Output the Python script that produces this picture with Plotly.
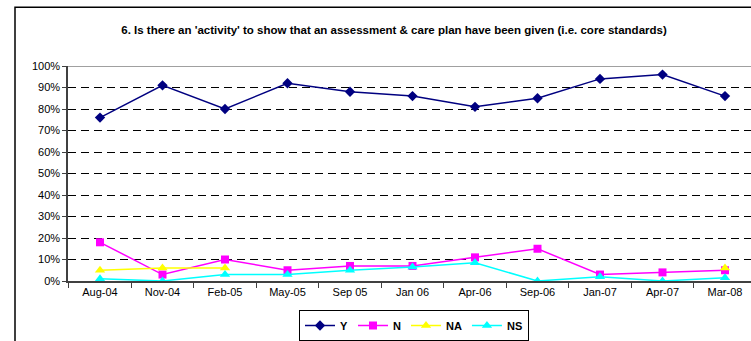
import plotly.graph_objects as go

# Survey periods
periods = ["Aug-04", "Nov-04", "Feb-05", "May-05", "Sep 05", "Jan 06",
           "Apr-06", "Sep-06", "Jan-07", "Apr-07", "Mar-08"]

# Percentage of responses per answer
y_yes = [76, 91, 80, 92, 88, 86, 81, 85, 94, 96, 86]
y_no = [18, 3, 10, 5, 7, 7, 11, 15, 3, 4, 5]
y_na = [5, 6, 6, None, None, None, None, None, None, None, 6]
y_ns = [1, 0, 3, 3, 5, 6.5, 8.5, 0, 2, 0, 1.5]

y_ticks = list(range(0, 101, 10))
y_tick_labels = [f"{v}%" for v in y_ticks]

FONT = "Liberation Sans, Arial, sans-serif"

series = [
    ("Y", y_yes, "#000080", "diamond", 8),
    ("N", y_no, "#FF00FF", "square", 8),
    ("NA", y_na, "#FFFF00", "triangle-up", 9),
    ("NS", y_ns, "#00FFFF", "triangle-up", 9),
]

fig = go.Figure()
for name, vals, color, symbol, size in series:
    fig.add_trace(go.Scatter(
        x=periods, y=vals, name=name, mode="lines+markers",
        connectgaps=False,
        line=dict(color=color, width=1.5),
        marker=dict(symbol=symbol, size=size, color=color,
                    line=dict(color=color, width=0)),
    ))

fig.update_layout(
    width=751, height=341,
    margin=dict(l=68, r=0, t=66, b=59),
    paper_bgcolor="white", plot_bgcolor="white",
    font=dict(family=FONT, size=11, color="black"),
    title=dict(
        text="<b>6. Is there an 'activity' to show that an assessment &amp; care plan have been given (i.e. core standards)</b>",
        x=(394 - 68) / 683, xref="paper", xanchor="center",
        y=1 - 30 / 341, yanchor="middle",
        font=dict(family=FONT, size=11.5, color="black"),
    ),
    showlegend=True,
    legend=dict(
        orientation="h", x=(414 - 68) / 683, xanchor="center",
        y=-0.205, yanchor="middle",
        bordercolor="black", borderwidth=1, bgcolor="white",
        font=dict(family=FONT, size=11, color="black", weight="bold"),
        itemwidth=30, tracegroupgap=0,
    ),
    xaxis=dict(
        type="category", range=[-0.512, 10.416],
        showgrid=False, zeroline=False,
        showline=True, linecolor="#404040", linewidth=1.5,
        ticks="outside", ticklen=5, tickcolor="#404040", tickwidth=1,
        tickson="boundaries",
        tickfont=dict(family=FONT, size=11, color="black"),
    ),
    yaxis=dict(
        range=[0, 100], tickmode="array",
        tickvals=y_ticks, ticktext=y_tick_labels,
        showgrid=True, gridcolor="black", gridwidth=1, griddash="8px,5px",
        zeroline=False,
        showline=True, linecolor="#404040", linewidth=1.5,
        ticks="outside", ticklen=4, tickcolor="#404040",
        tickfont=dict(family=FONT, size=11, color="black"),
    ),
    shapes=[
        # plot-area top border
        dict(type="line", xref="paper", yref="y", x0=0, x1=1, y0=100, y1=100,
             line=dict(color="#808080", width=1.5), layer="above"),
        # outer chart frame (left and top edges)
        dict(type="path", xref="paper", yref="paper",
             path="M {l},{b} L {l},{t} L 1,{t}".format(
                 l=(15 - 68) / 683, b=(282 - 345) / 216, t=(282 - 7) / 216),
             line=dict(color="black", width=1.5)),
    ],
)

fig.write_html("out.html")
